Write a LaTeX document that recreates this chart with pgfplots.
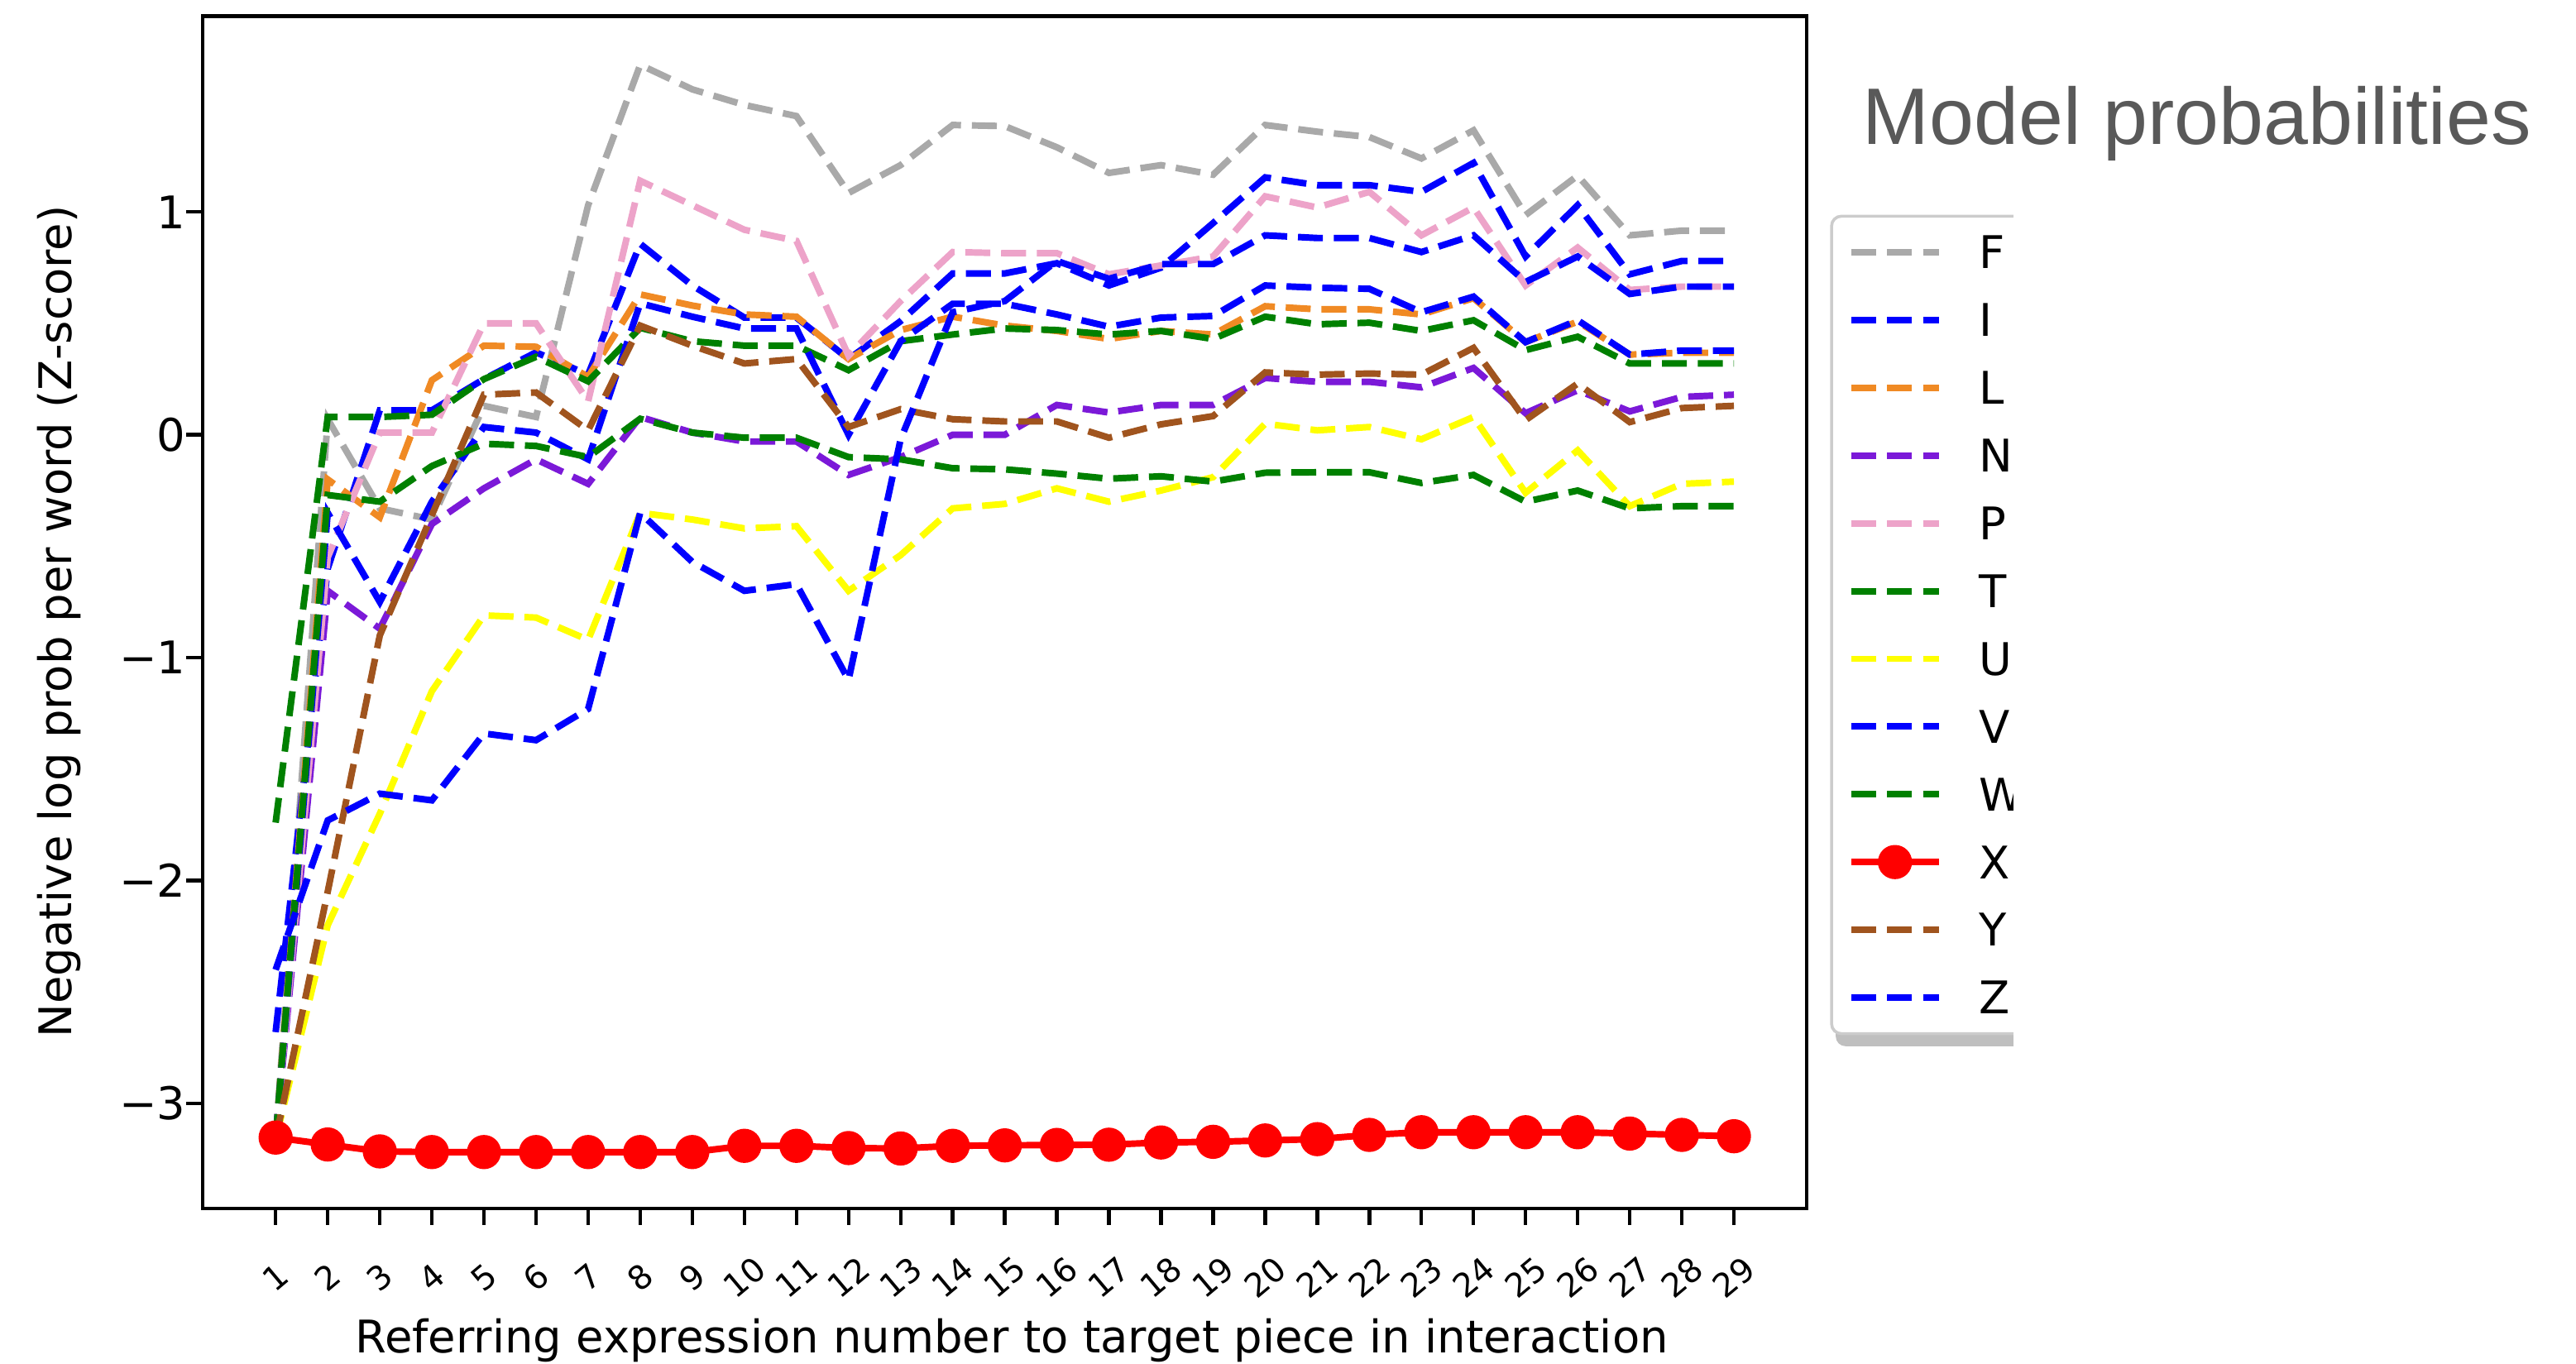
\documentclass[border=0pt]{standalone}
\usepackage{fontspec}
\setmainfont{DejaVu Sans}
\newfontfamily\titlefont{Liberation Sans}
\usepackage{pgfplots}
\usepackage{pgfplotstable}
\pgfplotsset{compat=1.18}
\definecolor{cF}{HTML}{A9A9A9}
\definecolor{cB}{HTML}{0000FF}
\definecolor{cL}{HTML}{F08A24}
\definecolor{cN}{HTML}{7B19D8}
\definecolor{cP}{HTML}{EDA3C9}
\definecolor{cG}{HTML}{008000}
\definecolor{cU}{HTML}{FFFF00}
\definecolor{cX}{HTML}{FF0000}
\definecolor{cY}{HTML}{A0541E}
\definecolor{titlegray}{HTML}{595959}

\pgfplotstableread{
x F I L N P T U V W X Y Z
1 -3.16 -2.68 -3.16 -3.16 -3.16 -1.74 -3.16 -3.16 -3.16 -3.153 -3.16 -2.40
2 0.07 -0.60 -0.20 -0.70 -0.55 0.08 -2.20 -0.35 -0.27 -3.184 -2.05 -1.73
3 -0.33 0.11 -0.37 -0.87 0.01 0.08 -1.70 -0.75 -0.30 -3.215 -0.90 -1.61
4 -0.38 0.11 0.245 -0.40 0.01 0.09 -1.15 -0.30 -0.14 -3.218 -0.36 -1.64
5 0.13 0.25 0.40 -0.24 0.50 0.25 -0.81 0.035 -0.04 -3.218 0.18 -1.34
6 0.08 0.37 0.395 -0.11 0.50 0.35 -0.82 0.01 -0.05 -3.218 0.19 -1.37
7 1.03 0.27 0.26 -0.22 0.15 0.24 -0.92 -0.11 -0.10 -3.218 0.02 -1.23
8 1.66 0.857 0.63 0.08 1.14 0.48 -0.35 0.59 0.072 -3.218 0.49 -0.35
9 1.55 0.67 0.58 0.01 1.03 0.42 -0.38 0.53 0.01 -3.218 0.40 -0.57
10 1.48 0.526 0.54 -0.03 0.92 0.40 -0.42 0.477 -0.013 -3.19 0.32 -0.70
11 1.43 0.526 0.53 -0.03 0.87 0.40 -0.41 0.477 -0.013 -3.19 0.34 -0.67
12 1.085 0.34 0.34 -0.18 0.355 0.29 -0.70 0.0 -0.10 -3.20 0.035 -1.10
13 1.21 0.51 0.47 -0.10 0.60 0.42 -0.54 0.42 -0.11 -3.202 0.115 -0.02
14 1.39 0.724 0.53 0.0 0.82 0.45 -0.33 0.588 -0.15 -3.19 0.07 0.55
15 1.385 0.724 0.49 0.0 0.815 0.477 -0.31 0.588 -0.155 -3.188 0.06 0.60
16 1.29 0.77 0.466 0.134 0.815 0.47 -0.24 0.54 -0.174 -3.186 0.06 0.78
17 1.175 0.67 0.43 0.10 0.72 0.45 -0.30 0.485 -0.197 -3.185 -0.013 0.70
18 1.21 0.75 0.466 0.134 0.76 0.466 -0.25 0.526 -0.186 -3.175 0.047 0.766
19 1.167 0.95 0.45 0.134 0.80 0.43 -0.19 0.533 -0.21 -3.172 0.084 0.766
20 1.39 1.155 0.577 0.255 1.07 0.53 0.05 0.67 -0.17 -3.166 0.28 0.895
21 1.36 1.12 0.563 0.238 1.02 0.496 0.02 0.66 -0.168 -3.16 0.27 0.883
22 1.336 1.12 0.563 0.238 1.09 0.503 0.035 0.655 -0.168 -3.141 0.275 0.883
23 1.24 1.09 0.54 0.213 0.895 0.466 -0.02 0.55 -0.216 -3.129 0.27 0.82
24 1.366 1.22 0.613 0.30 1.02 0.514 0.08 0.62 -0.18 -3.129 0.39 0.895
25 0.986 0.80 0.416 0.097 0.67 0.38 -0.26 0.416 -0.30 -3.129 0.066 0.686
26 1.163 1.03 0.508 0.20 0.84 0.44 -0.07 0.514 -0.25 -3.129 0.23 0.80
27 0.895 0.72 0.36 0.105 0.65 0.32 -0.32 0.36 -0.33 -3.135 0.057 0.632
28 0.916 0.78 0.368 0.17 0.665 0.32 -0.22 0.378 -0.32 -3.141 0.12 0.665
29 0.916 0.78 0.368 0.18 0.665 0.32 -0.21 0.378 -0.32 -3.147 0.13 0.665
}\datatable

\pgfplotsset{dl/.style={dash pattern=on 7.6pt off 3.3pt, line width=2pt, no markers}}

\begin{document}
\begin{tikzpicture}
\path[use as bounding box] (-61.7pt,-47.25pt) rectangle (722.3pt,367.75pt);
% legend shadow (drawn behind the legend box)
\fill[black!25, rounded corners=3pt] (497pt,49.3pt) rectangle (600pt,299pt);
\begin{axis}[
  name=ax, at={(0,0)}, anchor=south west,
  scale only axis, width=488.2pt, height=362.8pt,
  xmin=-0.4, xmax=30.4, ymin=-3.47, ymax=1.878,
  xtick={1,...,29}, ytick={-3,-2,-1,0,1}, yticklabels={−3,−2,−1,0,1},
  tick align=outside, xtick pos=bottom, ytick pos=left,
  major tick length=5pt,
  tick style={black, line width=1.1pt},
  axis line style={line width=1.1pt},
  font=\fontsize{13.7}{16.4}\selectfont,
  /pgf/number format/assume math mode=true,
  xticklabel style={inner sep=0pt, anchor=center, yshift=-16pt, rotate=40, font=\fontsize{10}{12}\selectfont},
  yticklabel style={inner sep=0pt, anchor=east},
  xlabel={Referring expression number to target piece in interaction},
  ylabel={Negative log prob per word (Z-score)},
  xlabel style={at={(axis description cs:0.5045,-0.1215)}, anchor=base, inner sep=0pt},
  ylabel style={at={(axis description cs:-0.0895,0.492)}, anchor=center, inner sep=0pt},
  legend cell align=left,
  legend image code/.code={\draw[mark repeat=2,mark phase=2,#1] plot coordinates {(0pt,0pt) (13.3pt,0pt) (26.6pt,0pt)};},
  legend style={at={(axis description cs:1.0145,0.8335)}, anchor=north west,
    draw=black!20, line width=0.9pt, rounded corners=3pt, fill=white,
    inner xsep=5pt, inner ysep=6pt, row sep=10.62pt, column sep=11.3pt,
    nodes={inner sep=0pt, text height=10pt, text depth=0pt},
    font=\fontsize{13.7}{16.4}\selectfont},
]
\addplot[dl, color=cF] table[x=x,y=F]{\datatable}; \addlegendentry{F}
\addplot[dl, color=cB] table[x=x,y=I]{\datatable}; \addlegendentry{I}
\addplot[dl, color=cL] table[x=x,y=L]{\datatable}; \addlegendentry{L}
\addplot[dl, color=cN] table[x=x,y=N]{\datatable}; \addlegendentry{N}
\addplot[dl, color=cP] table[x=x,y=P]{\datatable}; \addlegendentry{P}
\addplot[dl, color=cG] table[x=x,y=T]{\datatable}; \addlegendentry{T}
\addplot[dl, color=cU] table[x=x,y=U]{\datatable}; \addlegendentry{U}
\addplot[dl, color=cB] table[x=x,y=V]{\datatable}; \addlegendentry{V}
\addplot[dl, color=cG] table[x=x,y=W]{\datatable}; \addlegendentry{W}
\addplot[color=cX, line width=2pt, mark=*, mark size=4.2pt, mark options={solid, fill=cX, draw=cX}] table[x=x,y=X]{\datatable}; \addlegendentry{X}
\addplot[dl, color=cY] table[x=x,y=Y]{\datatable}; \addlegendentry{Y}
\addplot[dl, color=cB] table[x=x,y=Z]{\datatable}; \addlegendentry{Z}
\end{axis}
\fill[white] (551pt,30pt) rectangle (640pt,312pt);
\node[anchor=base west, inner sep=0pt, text=titlegray, font=\titlefont\fontsize{24.4}{29}\selectfont] at (505pt,323.75pt) {Model probabilities};
\end{tikzpicture}
\end{document}
